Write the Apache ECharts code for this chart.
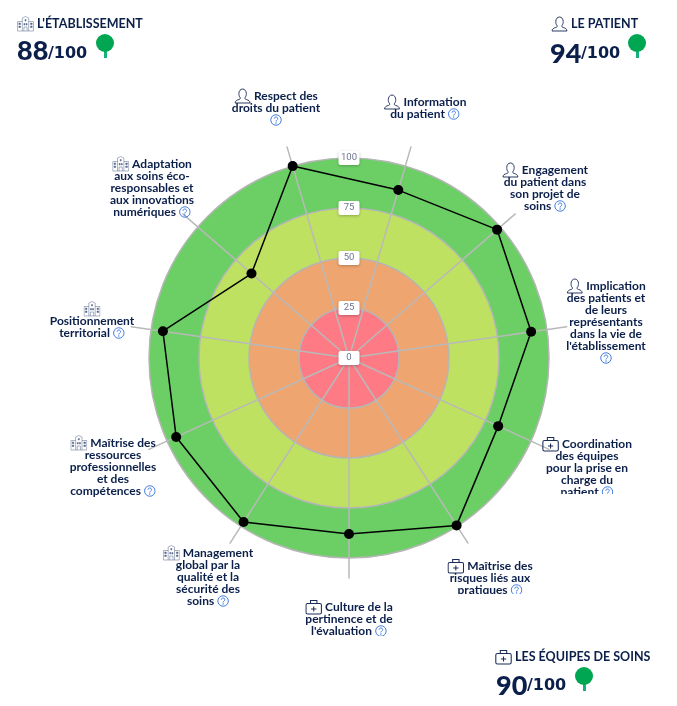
<!DOCTYPE html>
<html><head><meta charset="utf-8">
<style>html,body{margin:0;padding:0;background:#fff}#c{width:677px;height:706px}</style>
<script src="https://cdn.jsdelivr.net/npm/echarts@6/dist/echarts.min.js"></script>
</head><body><div id="c"></div>
<script>
// ---- data ----
const categories = [
 "Respect des\ndroits du patient", "Information\ndu patient", "Engagement\ndu patient dans\nson projet de\nsoins",
 "Implication\ndes patients et\nde leurs\nreprésentants\ndans la vie de\nl'établissement", "Coordination\ndes équipes\npour la prise en\ncharge du\npatient",
 "Maîtrise des\nrisques liés aux\npratiques", "Culture de la\npertinence et de\nl'évaluation", "Management\nglobal par la\nqualité et la\nsécurité des\nsoins",
 "Maîtrise des\nressources\nprofessionnelles\net des\ncompétences", "Positionnement\nterritorial", "Adaptation\naux soins éco-\nresponsables et\naux innovations\nnumériques"
];
const values = [100, 87.5, 98, 92, 82, 99.5, 88, 97.5, 95, 94, 64.5];
const families = ["user","user","user","user","bag","bag","bag","building","building","building","building"];
const helpOnOwnLine = [true,false,false,true,false,false,false,false,false,false,false];
const iconOnOwnLine = [false,false,false,false,false,false,false,false,false,true,false];
const radialTicks = [0,25,50,75,100];
const bandColors = ["#FE7A85","#EEA56F","#BEE162","#6CCF66"];
const scoreTitles = ["L'ÉTABLISSEMENT","LE PATIENT","LES ÉQUIPES DE SOINS"];
const scoreValues = [88,94,90];
const scoreFamilies = ["building","user","bag"];
const scoreMax = 100;

// ---- layout ----
const cx=349, cy=358, R=200, Rspoke=220;
const NAVY="#0B1F4B", GREEN="#00A651";
const labelPos=[[276,90],[425,96],[545,164],[606,280],[587,438],[490,560],[349,601],[208,547],[113,437],[92,303],[152,158]];
const clipRects=[null,null,null,null,[540,494,100,12],[440,594,100,12],[300,636,100,12],null,null,null,null];
const headerPos=[{ix:17,ty:24,nx:17,ny:38,sx:48,sy:46,tree:105,treeY:34},
                 {ix:551,ty:24,nx:550,ny:41,sx:581,sy:46,tree:637,treeY:34},
                 {ix:495,ty:657,nx:496,ny:673,sx:527,sy:678,tree:584,treeY:667}];

const svg=s=>"data:image/svg+xml;charset=utf-8,"+encodeURIComponent(s);
const iconSvg={
 user:svg('<svg xmlns="http://www.w3.org/2000/svg" width="32" height="32" viewBox="0 0 32 32" fill="none" stroke="#1B2C58" stroke-width="1.8"><path d="M2 30c0-4 3-6 7-7 2-.6 3-1.5 2.6-3.5C9.500 17 9 14 9 11c0-5 3-9 7-9s7 4 7 9c0 3-.5 6-2.600 8.500C20 21.500 21 22.400 23 23c4 1 7 3 7 7z"/></svg>'),
 bag:svg('<svg xmlns="http://www.w3.org/2000/svg" width="32" height="32" viewBox="0 0 32 32" fill="none" stroke="#1B2C58" stroke-width="2"><rect x="1.500" y="9" width="29" height="21" rx="3"/><path d="M10 9V3h12v6M16 15v10M11 20h10"/></svg>'),
 building:svg('<svg xmlns="http://www.w3.org/2000/svg" width="32" height="32" viewBox="0 0 32 32" fill="#5A6A8C" stroke="#5A6A8C" stroke-width="1"><path fill="none" d="M10 30V4l6-3 6 3v26M1 30V11h9M31 30V11h-9M1 30h30M13 30v-8h6v8"/><path d="M3.500 14h3v3h-3zM3.500 20h3v3h-3zM25.500 14h3v3h-3zM25.500 20h3v3h-3zM13 15h2v3h-2zM17 15h2v3h-2zM15 7h2v3h-2z"/></svg>'),
 help:svg('<svg xmlns="http://www.w3.org/2000/svg" width="24" height="24" viewBox="0 0 24 24" fill="none" stroke="#2F6FDE" stroke-width="1.800"><circle cx="12" cy="12" r="10.500"/><path d="M8.500 9.500c0-2 1.500-3.500 3.500-3.500s3.500 1.400 3.500 3.200c0 2.800-3.500 2.800-3.500 5.800"/><circle cx="12" cy="18" r=".6"/></svg>')
};
const richIcons={
 user:{width:17,height:16,backgroundColor:{image:iconSvg.user}},
 bag:{width:17,height:16,backgroundColor:{image:iconSvg.bag}},
 building:{width:17,height:16,backgroundColor:{image:iconSvg.building}},
 help:{width:12,height:12,backgroundColor:{image:iconSvg.help}}
};
const labelFont={fontFamily:"Lato",fontWeight:700,fontSize:12,fill:NAVY,lineHeight:12,align:"center"};

const elements=[];
categories.forEach((c,i)=>{
  const sep=helpOnOwnLine[i]?"\n":" ";
  const iconSep=iconOnOwnLine[i]?"\n":" ";
  elements.push({type:"text",x:labelPos[i][0],y:labelPos[i][1],z:20,
    style:Object.assign({},labelFont,{text:"{"+families[i]+"|}"+iconSep+c+sep+"{help|}",rich:richIcons})});
});
clipRects.forEach(r=>{ if(r) elements.push({type:"rect",z:21,shape:{x:r[0],y:r[1],width:r[2],height:r[3]},style:{fill:"#fff"}}); });
scoreTitles.forEach((t,i)=>{
  const h=headerPos[i];
  elements.push({type:"text",x:h.ix,y:h.ty-8,z:20,style:{text:"{"+scoreFamilies[i]+"|} "+t,rich:richIcons,fontFamily:"Lato",fontWeight:700,fontSize:12.5,fill:NAVY,lineHeight:16}});
  elements.push({type:"text",x:h.nx,y:h.ny,z:20,style:{text:String(scoreValues[i]),fontFamily:"Lato",fontWeight:900,fontSize:27,fill:NAVY}});
  elements.push({type:"text",x:h.sx,y:h.sy,z:20,style:{text:"/"+scoreMax,fontFamily:"DejaVu Sans",fontWeight:700,fontSize:16,fill:NAVY}});
  elements.push({type:"rect",z:20,shape:{x:h.tree-1,y:h.treeY+14,width:3,height:10},style:{fill:"#16B07A"}});
  elements.push({type:"circle",z:20,shape:{cx:h.tree,cy:h.treeY+9,r:9},style:{fill:GREEN}});
});

// The radar runs counter-clockwise, so the clockwise reading order is flipped here.
const flip=a=>[a[0],...a.slice(1).reverse()];
const spokeIndicator=flip(categories).map(c=>({name:"",max:100,min:0}));
const chart=echarts.init(document.getElementById("c"),null,{renderer:"canvas"});
const startAngle=90+360/categories.length/2;
chart.setOption({
  animation:false,
  graphic:{elements},
  polar:{center:[cx,cy],radius:R},
  angleAxis:{show:false,type:"value",min:0,max:360,startAngle:90},
  radiusAxis:{type:"value",min:0,max:100,interval:25,z:6,axisLine:{show:false},axisTick:{show:false},splitLine:{show:false},
    axisLabel:{show:true,margin:0,align:"center",verticalAlign:"middle",fontFamily:"Roboto",fontSize:9.5,color:"#6d7690",backgroundColor:"#fff",
      padding:[2,0,2,0],width:21,borderRadius:2,shadowColor:"rgba(0,0,0,0.25)",shadowBlur:3,shadowOffsetY:1,
      formatter:v=>radialTicks.includes(v)?String(v):""}},
  radar:[
   {center:[cx,cy],radius:R,shape:"circle",startAngle,splitNumber:4,z:0,indicator:spokeIndicator,
    axisName:{show:false},axisLine:{show:false},axisTick:{show:false},axisLabel:{show:false},
    splitLine:{lineStyle:{color:"#B5B5B5",width:1.5}},
    splitArea:{show:true,areaStyle:{color:bandColors,opacity:1,shadowBlur:0}}},
   {center:[cx,cy],radius:Rspoke,shape:"circle",startAngle,splitNumber:1,z:1,indicator:spokeIndicator,
    axisName:{show:false},axisTick:{show:false},axisLabel:{show:false},
    axisLine:{show:true,lineStyle:{color:"#B9B9B9",width:1.5}},
    splitLine:{show:false},splitArea:{show:false}}
  ],
  series:[{type:"radar",radarIndex:0,z:5,symbol:"circle",symbolSize:10,
    lineStyle:{color:"#000",width:1.5},itemStyle:{color:"#000"},areaStyle:{opacity:0},
    data:[{value:flip(values)}]}]
});
</script></body></html>
